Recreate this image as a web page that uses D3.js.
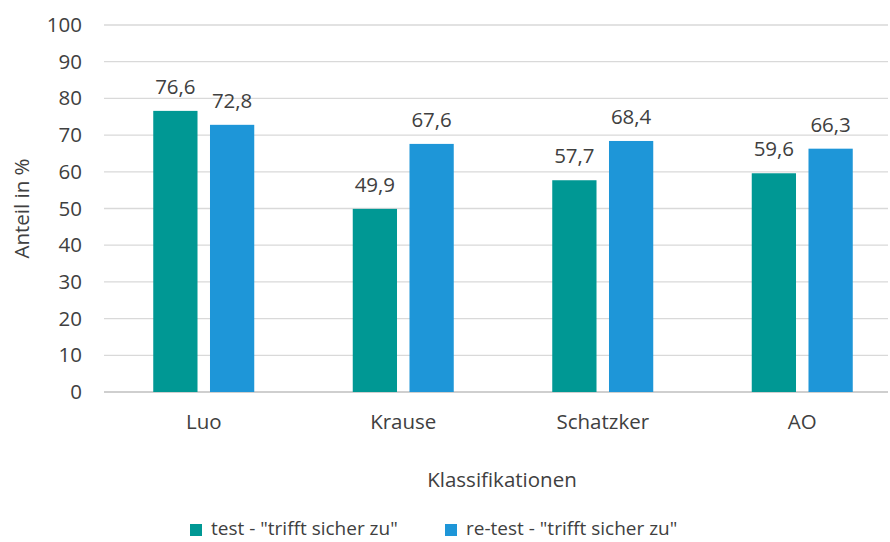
<!DOCTYPE html>
<html>
<head>
<meta charset="utf-8">
<script src="https://cdn.jsdelivr.net/npm/d3@7"></script>
<style>
  body { margin: 0; background: #fff; }
  text { font-family: "Open Sans", sans-serif; fill: #404040; }
</style>
</head>
<body>
<svg id="chart"></svg>
<script>
// chart size
const width = 890, height = 542;
const margin = {top: 25, bottom: 150, left: 104, right: -12};

const categories = ["Luo", "Krause", "Schatzker", "AO"];
const seriesNames = ['test - "trifft sicher zu"', 're-test - "trifft sicher zu"'];
const testValues = [76.6, 49.9, 57.7, 59.6];
const retestValues = [72.8, 67.6, 68.4, 66.3];
const yTicks = [0, 10, 20, 30, 40, 50, 60, 70, 80, 90, 100];
const colors = ["#009894", "#1e96d8"];
const fontSize = "20.5px";

const svg = d3.select("#chart")
    .attr("width", width)
    .attr("height", height)
    .style("background", "#ffffff");

const yScale = d3.scaleLinear()
    .domain([0, 100])
    .range([392, margin.top]);

const xScale = d3.scaleBand()
    .domain(categories)
    .range([margin.left, width - margin.right]);

// two bars of 45px with an 11px gap, centred in each band
const inner = d3.scaleBand()
    .domain([0, 1])
    .range([xScale.bandwidth() / 2 - 50.5, xScale.bandwidth() / 2 + 50.5])
    .paddingInner(0.22);

// gridlines
svg.append("g")
    .selectAll("line")
    .data(yTicks)
    .join("line")
    .attr("x1", margin.left)
    .attr("x2", 888)
    .attr("y1", d => yScale(d))
    .attr("y2", d => yScale(d))
    .attr("stroke", d => d === 0 ? "#bfbfbf" : "#d9d9d9")
    .attr("stroke-width", 1.3);

// y axis labels
const yAxis = svg.append("g")
    .attr("transform", `translate(${margin.left - 22},0)`)
    .call(d3.axisLeft(yScale).tickValues(yTicks).tickSize(0).tickPadding(0));
yAxis.select(".domain").remove();
yAxis.selectAll("text")
    .style("font-size", fontSize)
    .style("font-family", "Open Sans, sans-serif")
    .attr("fill", "#404040");

// x axis labels
const xAxis = svg.append("g")
    .attr("transform", `translate(0,392)`)
    .call(d3.axisBottom(xScale).tickSize(0).tickPadding(22));
xAxis.select(".domain").remove();
xAxis.selectAll("text")
    .style("font-size", fontSize)
    .style("font-family", "Open Sans, sans-serif")
    .attr("fill", "#404040");

// axis titles
svg.append("text")
    .attr("transform", `translate(29,${(yScale(0) + yScale(100)) / 2}) rotate(-90)`)
    .attr("text-anchor", "middle")
    .style("font-size", fontSize)
    .text("Anteil in %");

svg.append("text")
    .attr("x", 502)
    .attr("y", 487)
    .attr("text-anchor", "middle")
    .style("font-size", fontSize)
    .text("Klassifikationen");

// bars
const rows = categories.map((c, i) => ({cat: c, vals: [testValues[i], retestValues[i]]}));

const groups = svg.append("g")
    .selectAll("g")
    .data(rows)
    .join("g")
    .attr("transform", d => `translate(${xScale(d.cat)},0)`);

groups.selectAll("rect")
    .data(d => d.vals.map((v, j) => ({v, j})))
    .join("rect")
    .attr("x", d => inner(d.j))
    .attr("y", d => yScale(d.v))
    .attr("width", inner.bandwidth())
    .attr("height", d => yScale(0) - yScale(d.v))
    .attr("fill", d => colors[d.j]);

groups.selectAll("text.lbl")
    .data(d => d.vals.map((v, j) => ({v, j})))
    .join("text")
    .attr("class", "lbl")
    .attr("x", d => inner(d.j) + inner.bandwidth() / 2)
    .attr("y", d => yScale(d.v) - 17)
    .attr("text-anchor", "middle")
    .style("font-size", fontSize)
    .text(d => d.v.toFixed(1).replace(".", ","));

// legend
const legendX = [190, 445];
const legend = svg.append("g")
    .selectAll("g")
    .data(seriesNames)
    .join("g")
    .attr("transform", (d, i) => `translate(${legendX[i]},524)`);

legend.append("rect")
    .attr("width", 12)
    .attr("height", 12)
    .attr("fill", (d, i) => colors[i]);

legend.append("text")
    .attr("x", 21)
    .attr("y", 6)
    .attr("dominant-baseline", "middle")
    .style("font-size", "19px")
    .text(d => d);
</script>
</body>
</html>
